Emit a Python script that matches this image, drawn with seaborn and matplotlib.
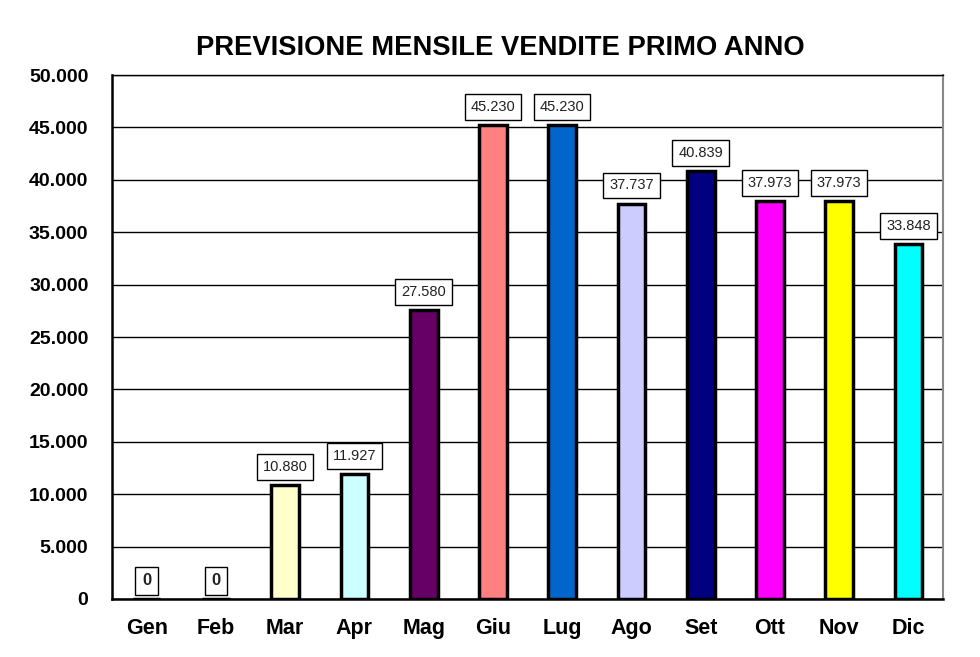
import numpy as np
import pandas as pd
import matplotlib
matplotlib.use("Agg")
import matplotlib.pyplot as plt
import seaborn as sns

# Data
months = ["Gen", "Feb", "Mar", "Apr", "Mag", "Giu", "Lug", "Ago", "Set", "Ott", "Nov", "Dic"]
sales = [0, 0, 10880, 11927, 27580, 45230, 45230, 37737, 40839, 37973, 37973, 33848]
bar_colors = ["#FFFFCC", "#CCFFFF", "#FFFFCC", "#CCFFFF", "#660066", "#FF8080",
              "#0066CC", "#CCCCFF", "#000080", "#FF00FF", "#FFFF00", "#00FFFF"]
y_ticks = list(range(0, 50001, 5000))
title = "PREVISIONE MENSILE VENDITE PRIMO ANNO"

df = pd.DataFrame({"mese": months, "vendite": sales})

sns.set_style("white")
plt.rcParams["font.family"] = ["Liberation Sans", "DejaVu Sans"]
plt.rcParams["text.color"] = "black"
plt.rcParams["xtick.color"] = "black"
plt.rcParams["ytick.color"] = "black"

fig = plt.figure(figsize=(9.8, 6.57), dpi=100)
ax = fig.add_axes([0.1143, 0.0883, 0.848, 0.7975])

sns.barplot(data=df, x="mese", y="vendite", hue="mese", palette=bar_colors,
            saturation=1, legend=False, width=0.4, edgecolor="black",
            linewidth=2.5, ax=ax, zorder=3)

def fmt(v):
    return f"{v:,}".replace(",", ".")

# data labels in boxes
for i, v in enumerate(sales):
    ax.annotate(fmt(v), xy=(i, v), xytext=(0, 13), textcoords="offset points",
                ha="center", va="center", fontsize=10.5 if v else 12,
                fontweight="bold" if v == 0 else "normal", color="#222222",
                annotation_clip=False, zorder=5,
                bbox=dict(boxstyle="square,pad=0.4", facecolor="white",
                          edgecolor="black", linewidth=1))

ax.set_ylim(0, 50000)
ax.set_xlim(-0.5, len(months) - 0.5)
ax.set_yticks(y_ticks)
ax.set_yticklabels([fmt(t) for t in y_ticks], fontsize=14, fontweight="bold")
ax.yaxis.grid(True, color="black", linewidth=1, zorder=0)
ax.set_axisbelow(True)

ax.set_xticks(range(len(months)))
ax.set_xticklabels(months, fontsize=15.5, fontweight="bold")
ax.set_xticks(np.arange(-0.5, len(months), 1), minor=True)
ax.tick_params(axis="x", which="major", length=0, pad=14)
ax.tick_params(axis="x", which="minor", length=6, width=1, color="black", direction="out")
ax.tick_params(axis="y", length=7, width=1, color="black", direction="out", pad=10)

ax.set_xlabel("")
ax.set_ylabel("")

for s in ["left", "bottom"]:
    ax.spines[s].set_color("black")
    ax.spines[s].set_linewidth(1.8)
ax.spines["top"].set_color("black")
ax.spines["top"].set_linewidth(1)
ax.spines["right"].set_color("#888888")
ax.spines["right"].set_linewidth(1.5)

fig.text(0.511, 0.927, title, ha="center", va="center", fontsize=19.7, fontweight="bold")

fig.savefig("out.png", dpi=100, facecolor="white")
